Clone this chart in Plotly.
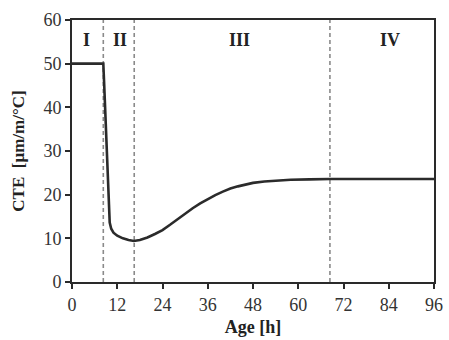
import plotly.graph_objects as go

age_h = [0, 8.3, 8.5, 8.8, 9.1, 9.4, 9.7, 10.0, 10.4, 11.0, 12.0, 13.5, 15.0, 16.4, 18, 20, 22, 24, 26, 28, 30, 32, 34, 36, 38, 40, 42, 44, 46, 48, 51, 54, 58, 63, 68.4, 96]
cte = [50, 50, 46, 39, 31, 23, 17, 13.6, 12.2, 11.3, 10.6, 10.0, 9.6, 9.4, 9.6, 10.2, 11.0, 11.9, 13.1, 14.4, 15.7, 16.9, 18.0, 19.0, 19.9, 20.7, 21.4, 21.9, 22.3, 22.7, 23.0, 23.2, 23.4, 23.5, 23.6, 23.6]

phase_bounds = [8.3, 16.5, 68.4]
phase_labels = ["I", "II", "III", "IV"]
phase_label_x = [3.9, 12.6, 44.5, 84.2]
phase_label_y = 55.4

x_ticks = [0, 12, 24, 36, 48, 60, 72, 84, 96]
y_ticks = [0, 10, 20, 30, 40, 50, 60]

font_family = "Liberation Serif, Times New Roman, serif"
axis_col = "#2a2a2a"

fig = go.Figure()
fig.add_trace(go.Scatter(x=age_h, y=cte, mode="lines",
                         line=dict(color="#2b2b2b", width=2.6),
                         showlegend=False, hoverinfo="skip"))

for xb in phase_bounds:
    fig.add_shape(type="line", x0=xb, x1=xb, y0=0, y1=60, xref="x", yref="y",
                  line=dict(color="#8a8a8a", width=1.6, dash="4px,3px"), layer="below")

for lab, lx in zip(phase_labels, phase_label_x):
    fig.add_annotation(x=lx, y=phase_label_y, text="<b>%s</b>" % lab, showarrow=False,
                       font=dict(family=font_family, size=18, color="#222"))

fig.update_layout(
    width=449, height=340,
    margin=dict(l=72, r=15, t=20, b=58),
    paper_bgcolor="white", plot_bgcolor="white",
    font=dict(family=font_family, size=18, color="#333"),
    xaxis=dict(range=[0, 96], tickvals=x_ticks, ticktext=[str(v) for v in x_ticks],
               showgrid=False, zeroline=False, showline=True, mirror=True, automargin=False,
               linecolor=axis_col, linewidth=2, ticks="outside", ticklen=5,
               tickwidth=1.5, tickcolor=axis_col,
               title=dict(text="<b>Age [h]</b>", font=dict(size=18, color="#222"), standoff=7)),
    yaxis=dict(range=[0, 60], tickvals=y_ticks, ticktext=[str(v) for v in y_ticks],
               showgrid=False, zeroline=False, showline=True, mirror=True, automargin=False,
               linecolor=axis_col, linewidth=2, ticks="outside", ticklen=5,
               tickwidth=1.5, tickcolor=axis_col,
               title=dict(text="<b>CTE  [µm/m/°C]</b>", font=dict(size=17, color="#222"), standoff=14)),
)

fig.write_html("out.html")
